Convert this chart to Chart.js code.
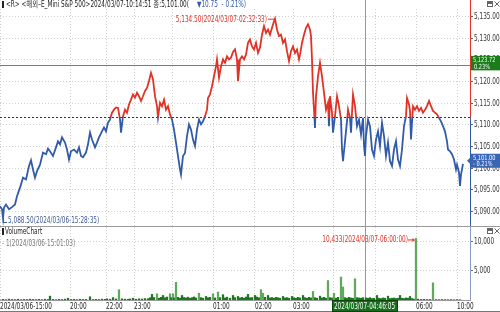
<!DOCTYPE html>
<html><head><meta charset="utf-8">
<script src="https://cdn.jsdelivr.net/npm/chart.js@4.4.1/dist/chart.umd.min.js"></script>
<style>
html,body{margin:0;padding:0;background:#fff;width:500px;height:312px;overflow:hidden}
#p1{position:absolute;left:0;top:0;width:500px;height:227px}
#p2{position:absolute;left:0;top:227px;width:500px;height:85px}
</style></head><body>
<div id="p1"><canvas id="c1" width="500" height="227"></canvas></div>
<div id="p2"><canvas id="c2" width="500" height="85"></canvas></div>
<script>
// ---------- DATA ----------
const barIndex = [0,2,3,4,6,9,12,15,17,20,23,26,29,31,33,35,37,40,43,46,48,50,53,56,58,60,62,65,67,69,71,74,77,79,81,83,86,88,90,92,95,97,99,102,104,106,108,110,112,114,116,118,120,121,123,125,127,129,131,133,135,137,139,141,143,145,147,149,151,153,155,157,158,160,162,164,166,168,170,172,174,176,178,180,181,183,185,187,189,191,193,195,197,199,201,203,205,207,208,210,212,214,216,217,219,221,223,225,227,229,231,233,235,237,238,240,242,244,246,248,250,252,254,256,258,260,262,264,266,268,270,272,274,275,277,279,281,283,285,287,289,291,293,295,297,299,300,302,304,306,308,310,311,312,313,314,315,316,318,320,322,324,326,328,329,330,332,333,335,337,339,341,342,343,345,347,348,350,351,352,353,355,357,359,361,363,364,365,366,368,370,372,374,376,378,380,382,384,386,388,390,392,394,396,398,400,402,404,406,407,409,410,411,413,415,417,419,421,423,425,427,429,431,433,435,437,439,441,443,445,447,448,450,452,454,456,457,459,460,461,462,463];
const price = [5091.2,5090.5,5088.5,5090.9,5091.6,5090.5,5091.0,5091.6,5093.5,5095.5,5097.8,5097.4,5100.5,5101.8,5099.7,5097.8,5099.3,5100.8,5103.6,5103.2,5104.5,5103.9,5102.8,5104.8,5106.2,5105.5,5107.1,5105.9,5104.3,5102.0,5103.9,5104.3,5103.6,5104.8,5102.8,5102.5,5103.6,5105.5,5108.2,5106.6,5104.8,5105.9,5107.1,5108.5,5109.4,5108.5,5110.5,5111.2,5112.8,5113.5,5114.0,5113.9,5111.2,5108.2,5112.0,5113.5,5112.8,5114.7,5115.8,5117.0,5116.3,5117.4,5116.6,5115.5,5116.6,5117.8,5118.5,5120.1,5122.0,5120.5,5116.6,5114.3,5111.7,5115.1,5114.3,5115.8,5113.5,5114.3,5112.4,5111.2,5108.9,5105.9,5102.8,5099.7,5098.5,5102.8,5103.5,5107.4,5110.1,5108.9,5106.6,5105.1,5108.9,5111.2,5110.1,5110.8,5112.0,5113.5,5116.2,5117.0,5118.9,5121.2,5123.5,5125.1,5120.9,5123.5,5125.1,5124.3,5125.8,5125.1,5125.5,5126.8,5127.4,5125.1,5120.1,5125.1,5125.8,5125.1,5126.2,5128.9,5129.7,5128.1,5127.4,5128.9,5126.6,5127.8,5130.8,5132.8,5131.2,5132.0,5130.8,5132.4,5133.9,5134.5,5132.0,5130.5,5130.8,5128.9,5129.7,5127.0,5124.7,5127.0,5128.1,5126.6,5127.4,5125.1,5126.2,5128.9,5130.8,5132.4,5133.2,5132.0,5130.5,5125.1,5117.4,5113.5,5109.3,5116.6,5121.2,5124.3,5121.2,5117.4,5113.5,5115.1,5109.7,5116.6,5112.8,5108.2,5112.0,5116.6,5114.3,5111.2,5104.3,5101.6,5106.2,5110.8,5113.5,5111.6,5108.2,5112.8,5117.0,5114.3,5109.7,5111.2,5107.8,5111.6,5105.1,5102.8,5107.4,5111.2,5109.7,5104.3,5102.8,5106.6,5108.5,5105.1,5110.5,5107.4,5102.8,5105.9,5101.6,5100.5,5104.3,5106.2,5102.0,5100.5,5104.3,5109.7,5112.0,5116.2,5114.7,5113.2,5106.6,5114.3,5113.5,5114.3,5113.2,5113.9,5112.8,5113.5,5114.3,5115.5,5114.3,5113.2,5112.8,5112.4,5111.6,5110.8,5109.7,5108.5,5106.2,5104.3,5103.9,5103.2,5102.0,5099.7,5100.8,5099.0,5095.9,5098.5,5099.7,5101.0];
const prevClose = 5111.75;
const lastPrice = 5101.00;
const refPrice = 5123.72;
const highIdx = 275, highPrice = 5134.50, highTime = '2024/03/07-02:32:33';
const lowIdx = 3, lowPrice = 5088.50, lowTime = '2024/03/06-15:28:35';
const priceTicks = [5090,5095,5100,5105,5110,5115,5120,5125,5130,5135];
const timeTickIdx = [0,70,106,134,172,213,255,293,333,375,416,457];
const timeTickLabels = ['2024/03/06-15:00','20:00','22:00','23:00','','01:00','02:00','03:00','04:00','05:00','06:00','10:00'];
const volIndex = [0,3,6,9,12,15,18,21,24,27,30,33,36,39,42,45,48,50,53,56,59,62,65,68,71,74,77,80,83,86,90,93,96,99,102,105,107,110,113,116,119,122,125,128,130,133,136,139,142,145,148,150,152,154,157,159,161,163,165,167,170,171,173,174,176,178,180,182,184,186,188,190,192,194,196,199,201,203,206,208,210,213,215,218,220,223,225,227,230,233,235,238,240,242,244,246,248,250,252,255,257,259,261,263,265,268,270,272,274,276,278,280,283,285,287,289,292,294,296,298,300,303,305,307,309,311,313,315,317,320,322,324,326,328,330,332,334,336,338,341,343,345,347,349,351,353,355,357,359,361,363,366,368,370,372,374,377,379,381,383,385,388,390,392,394,396,398,400,402,404,406,408,410,412,414,416,418,421,424,427,430,433,436,439,442,445,448,451,454,457,460];
const volume = [1,120,60,150,90,70,130,60,100,80,140,90,70,110,60,130,90,650,100,70,120,80,150,300,90,110,70,130,90,100,550,80,120,90,150,110,200,130,400,180,1750,200,150,120,180,300,140,200,170,250,220,380,950,420,1050,300,450,770,380,500,1050,400,1050,350,3000,450,300,770,420,350,480,300,400,520,350,1150,400,300,600,380,450,1050,350,1350,400,900,350,480,300,770,400,600,350,450,300,500,950,380,420,770,500,380,1750,1150,450,770,350,420,300,450,380,300,600,350,400,300,600,380,300,450,350,770,400,300,450,350,1450,400,300,650,350,450,300,3300,400,350,1150,300,450,3900,2200,400,300,450,350,300,3600,400,350,300,400,350,300,400,250,300,770,300,250,350,300,650,250,300,350,250,300,770,300,250,350,300,600,250,150,10433,150,100,120,80,100,2900,80,60,90,70,60,80,50,70,50];
const volTicks = [5000,10000];
const cursorIdx = 364.5, cursorLabel = '2024/03/07-04:46:05';
const minVolTime = '2024/03/06-15:01:03', maxVolTime = '2024/03/07-06:00:00';
const titleText = '<R> <해외–E_Mini S&P 500>2024/03/07-10:14:51 종:5,101.00(';

// ---------- FONT SETUP ----------
const probe = document.createElement('canvas').getContext('2d');
function w(f,t){probe.font=f;return probe.measureText(t).width;}
const hasNarrow = w('20px "Liberation Sans Narrow",monospace','0123456789') !== w('20px monospace','0123456789');
const FAM = hasNarrow ? '"Liberation Sans Narrow","Noto Sans CJK KR",sans-serif'
                      : '"DejaVu Sans Condensed","DejaVu Sans","Noto Sans CJK KR",sans-serif';
const SX = hasNarrow ? 1 : 0.8;
const font = s => s + 'px ' + FAM;
function txt(ctx,t,x,y,align){
  ctx.save();ctx.translate(x,y);ctx.scale(SX,1);ctx.textAlign=align||'left';ctx.fillText(t,0,0);ctx.restore();
}
function tw(ctx,t){return ctx.measureText(t).width*SX;}

const RED = 'rgb(224,50,38)', BLUE = 'rgb(50,90,170)';
const GREEN_LINE = 'rgb(78,160,66)', CURSOR = 'rgb(112,182,98)';
const fmt2 = v => Number(v).toLocaleString('en-US',{minimumFractionDigits:2,maximumFractionDigits:2});
const fmt0 = v => Number(v).toLocaleString('en-US');
const pct = v => ((v - prevClose) / prevClose * 100);
function seg(ctx,x1,y1,x2,y2){ctx.beginPath();ctx.moveTo(x1,y1);ctx.lineTo(x2,y2);ctx.stroke();}
function icons(ctx,y){
  ctx.save();ctx.strokeStyle='#666';ctx.lineWidth=1;
  ctx.strokeRect(487.5,y+0.5,5,5);ctx.fillStyle='#666';ctx.fillRect(488,y+1,5,2);
  seg(ctx,494.5,y+0.5,499.5,y+5.5);seg(ctx,499.5,y+0.5,494.5,y+5.5);
  ctx.restore();
}
function splitColor(c){
  const ch = c.chart, a = ch.chartArea;
  if(!a) return BLUE;
  const yp = ch.scales.y.getPixelForValue(prevClose);
  const t = Math.min(1,Math.max(0,(yp - a.top)/(a.bottom - a.top)));
  const g = ch.ctx.createLinearGradient(0,a.top,0,a.bottom);
  g.addColorStop(0,RED);g.addColorStop(t,RED);g.addColorStop(t,BLUE);g.addColorStop(1,BLUE);
  return g;
}
function yLabels(chart, fmt){
  const {ctx, chartArea:a, scales:{y}} = chart;
  ctx.save();ctx.font=font(8);ctx.fillStyle='#333';ctx.textBaseline='middle';
  y.ticks.forEach(t=>{ txt(ctx,fmt(t.value),a.right+4,y.getPixelForValue(t.value)+0.5,'left'); });
  ctx.restore();
}

// ---------- PRICE CHART ----------
const priceDeco = {
  id:'priceDeco',
  beforeDatasetsDraw(chart){
    const {ctx, chartArea:a, scales:{x,y}} = chart;
    ctx.save();ctx.lineWidth=1;
    const yp = Math.round(y.getPixelForValue(prevClose))+0.5;
    ctx.strokeStyle='#333';ctx.setLineDash([2,2]);seg(ctx,a.left,yp,a.right,yp);ctx.setLineDash([]);
    const yr = Math.round(y.getPixelForValue(refPrice))+0.5;
    ctx.strokeStyle=GREEN_LINE;seg(ctx,a.left,yr,a.right,yr);
    const xc = Math.round(x.getPixelForValue(cursorIdx))+0.5;
    ctx.strokeStyle=CURSOR;seg(ctx,xc,0,xc,chart.height);
    ctx.restore();
  },
  afterDraw(chart){
    const {ctx, chartArea:a, scales:{x,y}} = chart;
    yLabels(chart, fmt2);
    ctx.save();
    const yp = y.getPixelForValue(prevClose);
    const xr = Math.round(a.right)+0.5;
    ctx.lineWidth=1;
    ctx.strokeStyle=RED;seg(ctx,xr,0,xr,yp);
    ctx.strokeStyle=BLUE;seg(ctx,xr,yp,xr,chart.height);
    ctx.strokeStyle='#9a9a9a';seg(ctx,0,chart.height-0.5,500,chart.height-0.5);
    ctx.textBaseline='middle';ctx.font=font(8);
    ctx.fillStyle='#222';ctx.fillRect(2,1,2,7);
    txt(ctx,titleText,6,5,'left');
    const wd = tw(ctx,titleText);
    ctx.fillStyle=BLUE;
    txt(ctx,'▼'+fmt2(Math.abs(lastPrice-prevClose))+'  - '+Math.abs(pct(lastPrice)).toFixed(2)+'%)',6+wd+8,5,'left');
    const hx = x.getPixelForValue(highIdx), hy = y.getPixelForValue(highPrice);
    ctx.strokeStyle=RED;ctx.fillStyle=RED;ctx.lineWidth=1;
    seg(ctx,hx-7,hy+0.5,hx-1,hy+0.5);
    txt(ctx,fmt2(highPrice)+'('+highTime+')',hx-8,hy+1,'right');
    const lx = x.getPixelForValue(lowIdx), ly = y.getPixelForValue(lowPrice);
    ctx.strokeStyle='#3d5a94';ctx.fillStyle='#3d5a94';
    seg(ctx,Math.round(lx)+0.5,ly,Math.round(lx)+0.5,ly+4.5);seg(ctx,lx,ly+4.5,lx+4,ly+4.5);
    txt(ctx,fmt2(lowPrice)+'('+lowTime+')',lx+5,ly+2.5,'left');
    const yr = y.getPixelForValue(refPrice)-2;
    ctx.fillStyle='rgb(28,124,28)';ctx.fillRect(a.right+1,yr-7.5,500-a.right,14.5);
    ctx.fillStyle='#fff';ctx.font=font(7);
    txt(ctx,fmt2(refPrice),a.right+3,yr-3,'left');
    txt(ctx,pct(refPrice).toFixed(2)+'%',a.right+4,yr+3.5,'left');
    const yl = y.getPixelForValue(lastPrice)-3;
    ctx.fillStyle='rgb(58,100,180)';
    ctx.beginPath();ctx.moveTo(a.right-3,yl);ctx.lineTo(a.right+1,yl-4);ctx.lineTo(a.right+1,yl-7);
    ctx.lineTo(500,yl-7);ctx.lineTo(500,yl+7);ctx.lineTo(a.right+1,yl+7);ctx.lineTo(a.right+1,yl+4);ctx.closePath();ctx.fill();
    ctx.fillStyle='#fff';
    txt(ctx,fmt2(lastPrice),a.right+3,yl-3,'left');
    txt(ctx,'- '+Math.abs(pct(lastPrice)).toFixed(2)+'%',a.right+3,yl+3.5,'left');
    icons(ctx,1);
    ctx.restore();
  }
};

new Chart(document.getElementById('c1'),{
  type:'line',
  data:{datasets:[{data:barIndex.map((v,i)=>({x:v,y:price[i]})),borderColor:splitColor,borderWidth:1.8,pointRadius:0,tension:0,fill:false}]},
  options:{
    responsive:false,animation:false,events:[],
    layout:{padding:{top:9,bottom:1,left:0,right:0}},
    plugins:{legend:{display:false},tooltip:{enabled:false}},
    scales:{
      x:{type:'linear',min:0,max:470,
        afterBuildTicks:s=>{s.ticks=timeTickIdx.map(v=>({value:v}));},
        ticks:{display:false},grid:{color:'#d0d0d0',drawTicks:false},
        border:{display:false,dash:[1,2]},afterFit:s=>{s.height=0;}},
      y:{position:'right',min:5086.65,max:5136.73,
        afterBuildTicks:s=>{s.ticks=priceTicks.map(v=>({value:v}));},
        ticks:{display:false},
        grid:{color:'#d0d0d0',tickLength:3,tickColor:'#666',tickBorderDash:[]},
        border:{display:false,dash:[1,2]},afterFit:s=>{s.width=30;}}
    }
  },
  plugins:[priceDeco]
});

// ---------- VOLUME CHART ----------
const volDeco = {
  id:'volDeco',
  beforeDatasetsDraw(chart){
    const {ctx, chartArea:a, scales:{x}} = chart;
    ctx.save();ctx.lineWidth=1;
    const xc = Math.round(x.getPixelForValue(cursorIdx))+0.5;
    ctx.strokeStyle=CURSOR;seg(ctx,xc,0,xc,a.bottom);
    ctx.restore();
  },
  afterDraw(chart){
    const {ctx, chartArea:a, scales:{x,y}} = chart;
    yLabels(chart, fmt0);
    ctx.save();ctx.lineWidth=1;
    const xr = Math.round(a.right)+0.5;
    ctx.strokeStyle='#8a9cc0';seg(ctx,xr,0,xr,a.bottom);
    ctx.strokeStyle='#777';seg(ctx,0,chart.height-0.5,500,chart.height-0.5);
    ctx.textBaseline='middle';ctx.font=font(8);
    ctx.fillStyle='#222';
    x.ticks.forEach((t,i)=>{ if(timeTickLabels[i]) txt(ctx,timeTickLabels[i],x.getPixelForValue(t.value),a.bottom+6.5,'left'); });
    ctx.fillRect(2,1,2,7);txt(ctx,'VolumeChart',5,4.5,'left');
    let mi=0, ma=0;
    volume.forEach((v,i)=>{if(v<volume[mi])mi=i;if(v>volume[ma])ma=i;});
    ctx.fillStyle='#777';txt(ctx,'- '+fmt0(volume[mi])+'('+minVolTime+')',2,17,'left');
    const mx = x.getPixelForValue(volIndex[ma]), my = y.getPixelForValue(volume[ma]);
    ctx.strokeStyle=RED;ctx.fillStyle=RED;
    seg(ctx,mx-8,my+1.5,mx-2,my+1.5);
    ctx.beginPath();ctx.moveTo(mx-1,my+1.5);ctx.lineTo(mx-3.5,my-0.5);ctx.lineTo(mx-3.5,my+3.5);ctx.closePath();ctx.fill();
    txt(ctx,fmt0(volume[ma])+'('+maxVolTime+')',mx-8,my+1.5,'right');
    const xc = x.getPixelForValue(cursorIdx);
    const bw = Math.round(tw(ctx,cursorLabel)+4);
    const bx = Math.round(xc-bw/2)+0.5;
    ctx.fillStyle='rgb(22,110,26)';ctx.fillRect(bx,a.bottom+0.5,bw,chart.height-a.bottom-1);
    ctx.strokeStyle='#0d400d';ctx.strokeRect(bx,a.bottom+0.5,bw,chart.height-a.bottom-1);
    ctx.fillStyle='#fff';txt(ctx,cursorLabel,xc,a.bottom+6.5,'center');
    icons(ctx,1);
    ctx.restore();
  }
};

new Chart(document.getElementById('c2'),{
  type:'bar',
  data:{datasets:[{data:volIndex.map((v,i)=>({x:v,y:volume[i]})),
    backgroundColor:c=>(c.raw && c.raw.y>1000 ? 'rgb(96,168,92)' : 'rgb(28,120,28)'),
    barThickness:1.6,borderWidth:0}]},
  options:{
    responsive:false,animation:false,events:[],
    layout:{padding:{top:0,bottom:0,left:0,right:0}},
    plugins:{legend:{display:false},tooltip:{enabled:false}},
    scales:{
      x:{type:'linear',min:0,max:470,offset:false,
        afterBuildTicks:s=>{s.ticks=timeTickIdx.map(v=>({value:v}));},
        ticks:{display:false},
        grid:{color:'#d0d0d0',drawTicks:false,offset:false},
        border:{display:true,color:'#999',dash:[1,2]},afterFit:s=>{s.height=12;}},
      y:{position:'right',min:0,max:12373,
        afterBuildTicks:s=>{s.ticks=volTicks.map(v=>({value:v}));},
        ticks:{display:false},
        grid:{color:'#d0d0d0',tickLength:3,tickColor:'#666',tickBorderDash:[]},
        border:{display:false,dash:[1,2]},afterFit:s=>{s.width=30;}}
    }
  },
  plugins:[volDeco]
});
</script>
</body></html>
